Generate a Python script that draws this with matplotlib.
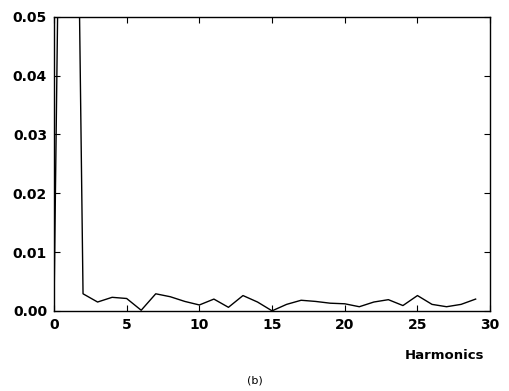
import matplotlib
matplotlib.use("Agg")
import matplotlib.pyplot as plt

# harmonic order and relative amplitude
harmonics = list(range(0, 30))
amplitude = [0.0, 0.2, 0.0029, 0.0015, 0.0023, 0.0021, 0.0001, 0.0029, 0.0024, 0.0016,
             0.0010, 0.0020, 0.0006, 0.0026, 0.0015, 0.0, 0.0011, 0.0018, 0.0016, 0.0013,
             0.0012, 0.0007, 0.0015, 0.0019, 0.0009, 0.0026, 0.0011, 0.0007, 0.0011, 0.0020]
xticks = [0, 5, 10, 15, 20, 25, 30]
yticks = [0.0, 0.01, 0.02, 0.03, 0.04, 0.05]

fig = plt.figure(figsize=(5.09, 3.91), dpi=100)
ax = fig.add_axes([0.106, 0.205, 0.857, 0.752])
ax.plot(harmonics, amplitude, color="black", linewidth=1.0)
ax.set_xlim(0, 30)
ax.set_ylim(0, 0.05)
ax.set_xticks(xticks)
ax.set_yticks(yticks)
ax.set_xticklabels([str(t) for t in xticks], fontweight="bold", fontsize=10)
ax.set_yticklabels(["%.2f" % t for t in yticks], fontweight="bold", fontsize=10)
ax.tick_params(direction="in", top=True, right=True, length=4, width=0.8, pad=5)
for s in ax.spines.values():
    s.set_linewidth(1.0)

fig.text(0.874, 0.092, "Harmonics", ha="center", va="center", fontsize=9.5, fontweight="bold")
fig.text(0.5, 0.028, "(b)", ha="center", va="center", fontsize=8)

fig.savefig("out.png", dpi=100)
